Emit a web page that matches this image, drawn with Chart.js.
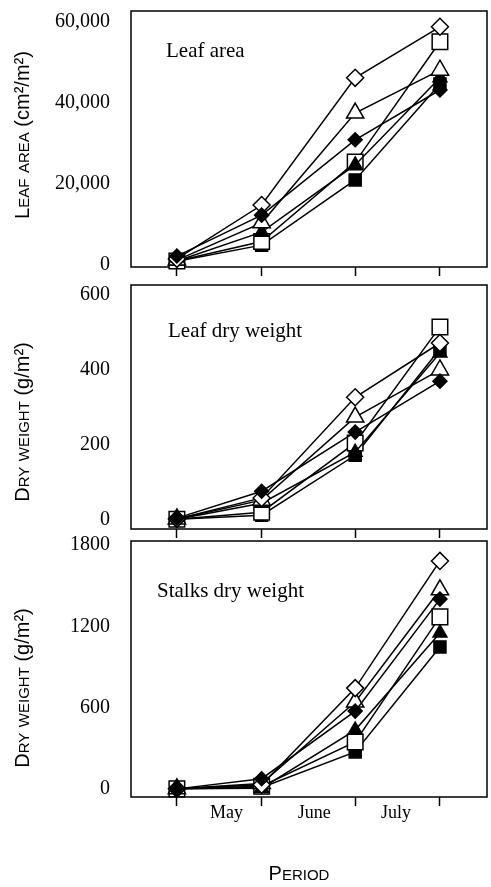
<!DOCTYPE html>
<html>
<head>
<meta charset="utf-8">
<script src="https://cdn.jsdelivr.net/npm/chart.js@4.4.1/dist/chart.umd.min.js"></script>
<style>
  body { margin: 0; background: #fff; }
  canvas { position: absolute; left: 0; }
</style>
</head>
<body>
<canvas id="leafArea" width="491" height="280" style="top:0"></canvas>
<canvas id="leafDry" width="491" height="260" style="top:280px"></canvas>
<canvas id="stalkDry" width="491" height="362" style="top:525px"></canvas>
<script>
// sampling dates, days after the first sampling
const sampleDays = [0, 29, 61, 90];
const monthDays = [17, 47, 75];
const monthNames = ["May", "June", "July"];

// leaf area (cm2/m2), one list per treatment (named by marker)
const areaOpenDiamond = [1500, 14800, 46200, 58800];
const areaFilledDiamond = [2200, 12300, 30900, 43200];
const areaOpenTriangle = [1200, 10400, 37500, 48100];
const areaFilledTriangle = [1000, 8100, 24700, 46200];
const areaOpenSquare = [1000, 5800, 25400, 55100];
const areaFilledSquare = [900, 4900, 21000, 44700];
const areaTicks = [0, 20000, 40000, 60000];

// leaf dry weight (g/m2)
const leafOpenDiamond = [2, 58, 327, 472];
const leafFilledDiamond = [4, 76, 234, 370];
const leafOpenTriangle = [2, 52, 274, 400];
const leafFilledTriangle = [1, 44, 180, 445];
const leafOpenSquare = [1, 20, 205, 515];
const leafFilledSquare = [1, 12, 172, 456];
const leafTicks = [0, 200, 400, 600];

// stalks dry weight (g/m2)
const stalkOpenDiamond = [0, 30, 744, 1683];
const stalkFilledDiamond = [0, 75, 574, 1401];
const stalkOpenTriangle = [0, 40, 641, 1470];
const stalkFilledTriangle = [0, 5, 434, 1151];
const stalkOpenSquare = [0, 20, 346, 1270];
const stalkFilledSquare = [0, 10, 273, 1048];
const stalkTicks = [0, 600, 1200, 1800];

const serif = '"Liberation Serif", "Times New Roman", serif';
const sans = '"Liberation Sans", Arial, sans-serif';

// open diamond, filled diamond, open triangle, filled triangle, open square, filled square
const markers = [
  { style: "rectRot", r: 8.5, fill: "#fff" },
  { style: "rectRot", r: 7, fill: "#000" },
  { style: "triangle", r: 10, fill: "#fff" },
  { style: "triangle", r: 8, fill: "#000" },
  { style: "rect", r: 11, fill: "#fff" },
  { style: "rect", r: 8.5, fill: "#000" }
];

// small caps: lower case letters before "(" are drawn as smaller capitals
function drawCaps(ctx, text, cx, cy, vertical) {
  const runs = [];
  let inParen = false;
  for (const ch of text) {
    if (ch === "(") inParen = true;
    const small = !inParen && ch !== ch.toUpperCase();
    const size = small ? 15 : 20;
    const t = small ? ch.toUpperCase() : ch;
    const last = runs[runs.length - 1];
    if (last && last.size === size) last.text += t;
    else runs.push({ text: t, size });
  }
  let total = 0;
  runs.forEach(r => {
    ctx.font = r.size + "px " + sans;
    r.w = ctx.measureText(r.text).width;
    total += r.w;
  });
  ctx.save();
  ctx.translate(cx, cy);
  if (vertical) ctx.rotate(-Math.PI / 2);
  ctx.fillStyle = "#000";
  ctx.textAlign = "left";
  ctx.textBaseline = "alphabetic";
  let x = -total / 2;
  runs.forEach(r => {
    ctx.font = r.size + "px " + sans;
    ctx.fillText(r.text, x, 7);
    x += r.w;
  });
  ctx.restore();
}

const panelText = {
  id: "panelText",
  beforeDatasetsDraw(chart) {
    const { ctx, chartArea: a } = chart;
    ctx.save();
    ctx.strokeStyle = "#000";
    ctx.lineWidth = 1.5;
    ctx.strokeRect(a.left, a.top, a.right - a.left, a.bottom - a.top);
    ctx.restore();
  },
  afterDraw(chart, args, o) {
    const ctx = chart.ctx;
    ctx.save();
    ctx.fillStyle = "#000";
    ctx.font = "21px " + serif;
    ctx.textAlign = "left";
    ctx.textBaseline = "alphabetic";
    ctx.fillText(o.label, o.labelX, o.labelY);
    ctx.restore();
    drawCaps(ctx, o.yTitle, o.yTitleX, o.yTitleY, true);
    if (o.xTitle) drawCaps(ctx, o.xTitle, o.xTitleX, o.xTitleY, false);
  }
};

function makeChart(id, series, yTicks, yMin, yMax, fmt, padTop, xHeight, showMonths, text) {
  const datasets = series.map((values, i) => ({
    data: values.map((v, j) => ({ x: sampleDays[j], y: v })),
    order: i === 1 ? 0 : 1,   // filled diamonds on top
    borderColor: "#000",
    borderWidth: 1.5,
    pointStyle: markers[i].style,
    pointRadius: markers[i].r,
    pointBackgroundColor: markers[i].fill,
    pointBorderColor: "#000",
    pointBorderWidth: 1.5,
    tension: 0,
    clip: false
  }));

  return new Chart(document.getElementById(id), {
    type: "line",
    data: { datasets },
    plugins: [panelText],
    options: {
      responsive: false,
      animation: false,
      layout: { autoPadding: false, padding: { top: padTop, right: 4, left: 0, bottom: 0 } },
      plugins: {
        legend: { display: false },
        tooltip: { enabled: false },
        panelText: text
      },
      scales: {
        x: {
          type: "linear",
          min: -15.7,
          max: 106.1,
          afterBuildTicks: s => {
            s.ticks = sampleDays.map(v => ({ value: v })).concat(monthDays.map(v => ({ value: v })));
          },
          afterFit: s => { s.height = xHeight; s.paddingLeft = 0; s.paddingRight = 0; },
          border: { display: false },
          grid: {
            drawOnChartArea: false,
            drawTicks: true,
            tickLength: 9,
            tickWidth: 1.5,
            tickColor: c => (c.tick && monthDays.includes(c.tick.value)) ? "rgba(0,0,0,0)" : "#000"
          },
          ticks: {
            display: showMonths,
            autoSkip: false,
            maxRotation: 0,
            padding: -4,
            color: "#000",
            font: { family: serif, size: 18 },
            callback: v => {
              const i = monthDays.indexOf(v);
              return i >= 0 ? monthNames[i] : "";
            }
          }
        },
        y: {
          min: yMin,
          max: yMax,
          afterBuildTicks: s => { s.ticks = yTicks.map(v => ({ value: v })); },
          afterFit: s => { s.width = 131; s.paddingTop = 0; s.paddingBottom = 0; },
          border: { display: false },
          grid: { display: false },
          ticks: {
            padding: 13,
            color: "#000",
            font: { family: serif, size: 20 },
            callback: fmt
          }
        }
      }
    }
  });
}

makeChart("leafArea",
  [areaOpenDiamond, areaFilledDiamond, areaOpenTriangle, areaFilledTriangle, areaOpenSquare, areaFilledSquare],
  areaTicks, -500, 62700, v => v.toLocaleString("en-US"), 11, 13, false,
  { label: "Leaf area", labelX: 166, labelY: 57, yTitle: "Leaf area (cm²/m²)", yTitleX: 22, yTitleY: 135 });

makeChart("leafDry",
  [leafOpenDiamond, leafFilledDiamond, leafOpenTriangle, leafFilledTriangle, leafOpenSquare, leafFilledSquare],
  leafTicks, -25, 627, v => String(v), 5, 11, false,
  { label: "Leaf dry weight", labelX: 168, labelY: 57, yTitle: "Dry weight (g/m²)", yTitleX: 22, yTitleY: 142 });

makeChart("stalkDry",
  [stalkOpenDiamond, stalkFilledDiamond, stalkOpenTriangle, stalkFilledTriangle, stalkOpenSquare, stalkFilledSquare],
  stalkTicks, -60, 1830, v => String(v), 16, 90, true,
  { label: "Stalks dry weight", labelX: 157, labelY: 72, yTitle: "Dry weight (g/m²)", yTitleX: 22, yTitleY: 163,
    xTitle: "Period", xTitleX: 299, xTitleY: 348 });
</script>
</body>
</html>
